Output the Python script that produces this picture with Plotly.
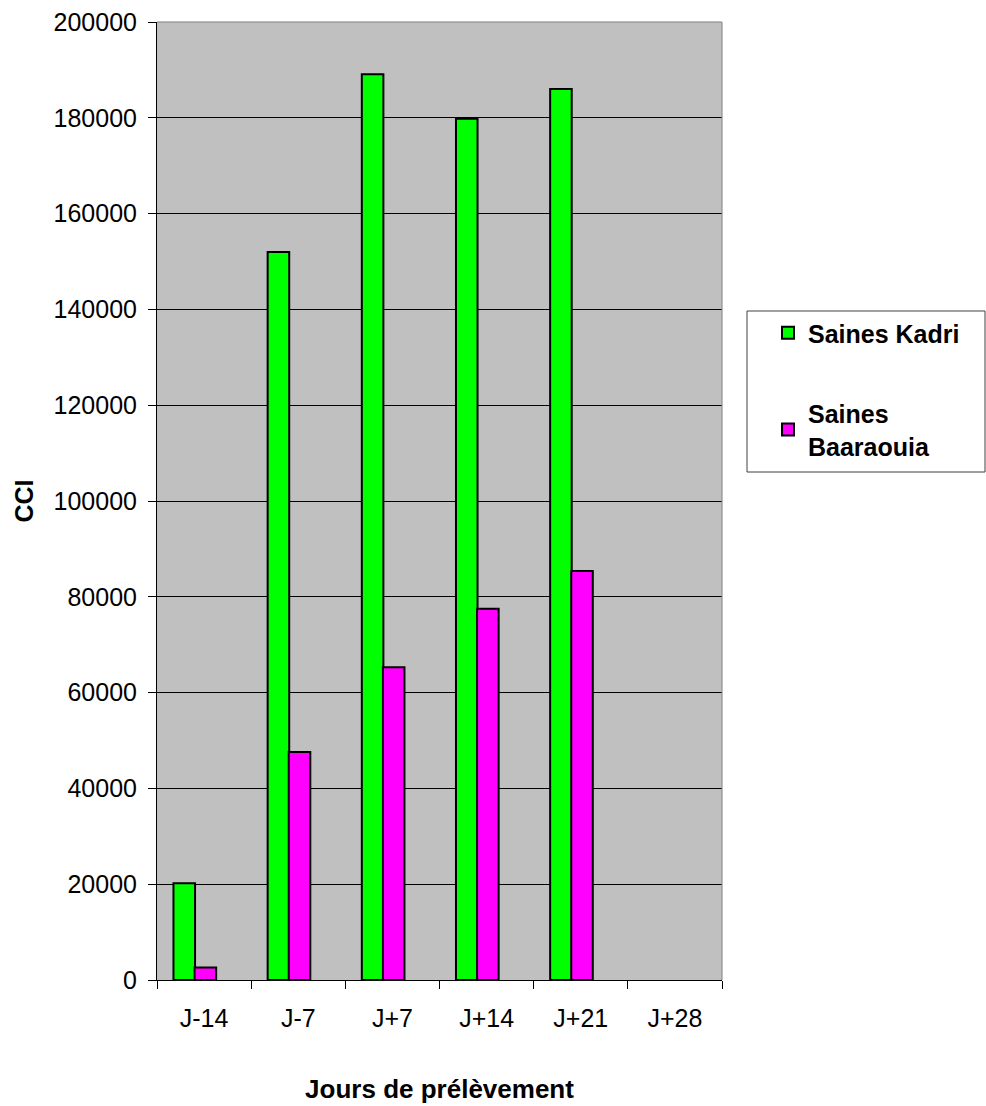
import plotly.graph_objects as go

# Sampling days and CCI values per herd
jours = ["J-14", "J-7", "J+7", "J+14", "J+21", "J+28"]
saines_kadri = [20200, 152000, 189100, 179800, 186000, None]
saines_baaraouia = [2600, 47600, 65300, 77500, 85400, None]
y_ticks = [0, 20000, 40000, 60000, 80000, 100000, 120000, 140000, 160000, 180000, 200000]

FONT = "Liberation Sans, Arial, sans-serif"
BAR_W = 0.229

fig = go.Figure()
fig.add_trace(go.Bar(
    x=jours, y=saines_kadri, name="Saines Kadri",
    marker=dict(color="#00FF00", line=dict(color="black", width=2)),
    width=BAR_W, offset=-0.325, legendgroup="a",
))
fig.add_trace(go.Bar(
    x=jours, y=saines_baaraouia, name="Saines<br>Baaraouia",
    marker=dict(color="#FF00FF", line=dict(color="black", width=2)),
    width=BAR_W, offset=-0.101, legendgroup="b",
))

L, R, T, B = 157, 264, 22, 126
W, H = 986, 1106
pw = W - L - R
ph = H - T - B

fig.update_layout(
    width=W, height=H,
    margin=dict(l=L, r=R, t=T, b=B, autoexpand=False),
    paper_bgcolor="white",
    plot_bgcolor="#C0C0C0",
    font=dict(family=FONT, size=24, color="black"),
    showlegend=True,
    legend=dict(
        x=(768 - L) / pw, y=(H - B - 310) / ph,
        xanchor="left", yanchor="top",
        bgcolor="rgba(0,0,0,0)", borderwidth=0,
        font=dict(family=FONT, size=25, color="black", weight="bold"),
        traceorder="grouped", tracegroupgap=45,
        itemwidth=30,
    ),
    xaxis=dict(
        type="category", categoryorder="array", categoryarray=jours,
        range=[-0.5, 5.5], automargin=False,
        showline=True, linecolor="black", linewidth=1,
        ticks="outside", ticklen=8, tickcolor="black", tickson="boundaries",
        showgrid=False, zeroline=False,
        tickfont=dict(family=FONT, size=25),
        ticklabelstandoff=16,
        title=dict(text="<b>Jours de prélèvement</b>", font=dict(family=FONT, size=26), standoff=48),
    ),
    yaxis=dict(
        range=[0, 200000], tickvals=y_ticks, ticktext=[str(v) for v in y_ticks],
        automargin=False,
        showline=True, linecolor="black", linewidth=1,
        ticks="outside", ticklen=8, tickcolor="black",
        showgrid=True, gridcolor="black", gridwidth=1,
        zeroline=False,
        tickfont=dict(family=FONT, size=25),
        ticklabelstandoff=6,
        title=dict(text="<b>CCI</b>", font=dict(family=FONT, size=25), standoff=12),
    ),
)

# Gray frame on the top and right of the plot area
fig.add_shape(type="line", xref="paper", yref="paper", x0=0, x1=1, y0=1, y1=1,
              line=dict(color="#808080", width=1))
fig.add_shape(type="line", xref="paper", yref="paper", x0=1, x1=1, y0=0, y1=1,
              line=dict(color="#808080", width=1))

# Legend frame
fig.add_shape(type="rect", xref="paper", yref="paper",
              x0=(747 - L) / pw, x1=(985 - L) / pw,
              y0=(H - B - 472) / ph, y1=(H - B - 311) / ph,
              line=dict(color="#404040", width=1), fillcolor="rgba(0,0,0,0)")

fig.write_html("out.html")
